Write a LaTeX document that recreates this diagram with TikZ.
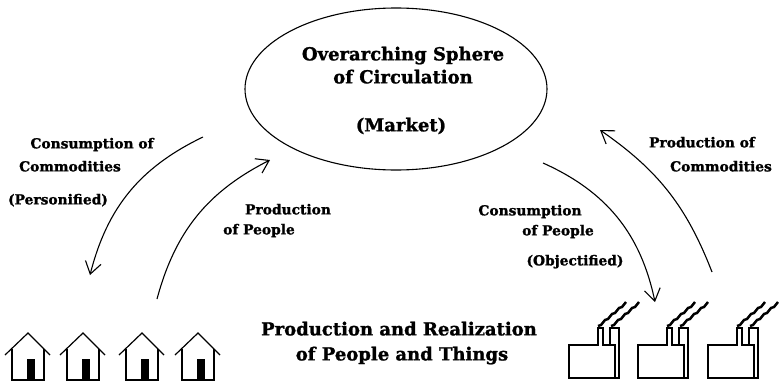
\documentclass[tikz,border=0pt]{standalone}
\usepackage{fontspec}
\setmainfont[BoldFeatures={FakeBold=1.3}]{DejaVu Serif}
\usetikzlibrary{arrows.meta,shapes.geometric}
\begin{document}
\begin{tikzpicture}[x=1pt,y=-1pt,
  lbl/.style={font=\bfseries\fontsize{13.8}{16}\selectfont, inner sep=0pt, text height=1.6ex, text depth=.3ex},
  ttl/.style={font=\bfseries\fontsize{18}{21}\selectfont, inner sep=0pt, text height=1.6ex, text depth=.3ex},
  flow/.style={line width=1.1pt, -{Straight Barb[length=12pt,width=16pt,line width=1.1pt]}},
  hl/.style={line width=1.2pt, line join=miter},
  smoke/.style={line width=2.5pt, line join=miter},
  house/.pic={
    \draw[hl] (-23,22) -- (0,0) -- (22,22);
    \draw[hl] (-16,16) -- (-16,47) -- (16,47) -- (16,16);
    \fill (-1,26) rectangle (7,47);
  },
  factory/.pic={
    \draw[hl] (46,0) -- (0,0) -- (0,-33) -- (29,-33) -- (29,-50) -- (34,-50) -- (34,-33) -- (41,-33);
    \draw[hl] (41,-33) -- (41,-50) -- (50,-50) -- (50,0) -- (46,0) -- (46,-33) -- (41,-33);
    \draw[smoke] (29,-52) -- ++(3,-1) -- ++(4,-5) -- ++(3,-1) -- ++(4,-5) -- ++(3,-1) -- ++(4,-5) -- ++(3,-1) -- ++(4,-5);
    \draw[smoke] (42,-52) -- ++(3,-1) -- ++(4,-5) -- ++(3,-1) -- ++(4,-5) -- ++(3,-1) -- ++(4,-5) -- ++(3,-1) -- ++(4,-5);
  }
]
\useasboundingbox (0,0) rectangle (784,383);

% market ellipse
\node[draw, line width=1.1pt, ellipse, minimum width=302pt, minimum height=162pt, inner sep=0pt] (market) at (396,89) {};
\node[ttl] (t1) at (403,57) {Overarching Sphere};
\node[ttl] (t2) at (403,80) {of Circulation};
\node[ttl] (t3) at (401,128) {(Market)};

% bottom title
\node[ttl] (b1) at (399,332) {Production and Realization};
\node[ttl] (b2) at (402,357) {of People and Things};

% labels
\node[lbl] (l1) at (92,145) {Consumption of};
\node[lbl] (l2) at (70,168) {Commodities};
\node[lbl] (l3) at (58,201) {(Personified)};
\node[lbl] (l4) at (288,211) {Production};
\node[lbl] (l5) at (259,231) {of People};
\node[lbl] (l6) at (530,212) {Consumption};
\node[lbl] (l7) at (558,232) {of People};
\node[lbl] (l8) at (575,262) {(Objectified)};
\node[lbl] (l9) at (702,144) {Production of};
\node[lbl] (l10) at (721,168) {Commodities};

% arrow end points
\coordinate (a1s) at (203,137);
\coordinate (a1e) at (90,275);
\coordinate (a2s) at (157,299);
\coordinate (a2e) at (270,160);
\coordinate (a3s) at (543,163);
\coordinate (a3e) at (655,302);
\coordinate (a4s) at (712,272);
\coordinate (a4e) at (600,130);

\draw[flow] (a1s) to[bend right=25] (a1e);
\draw[flow] (a2s) to[bend left=24] (a2e);
\draw[flow] (a3s) to[bend left=27] (a3e);
\draw[flow] (a4s) to[bend right=17] (a4e);

% houses
\foreach \hx/\hn in {28/h1,83/h2,142/h3,198/h4}
  \pic (\hn) at (\hx,333) {house};

% factories
\foreach \fx/\fn in {569/f1,638/f2,708/f3}
  \pic (\fn) at (\fx,378) {factory};
\end{tikzpicture}
\end{document}
